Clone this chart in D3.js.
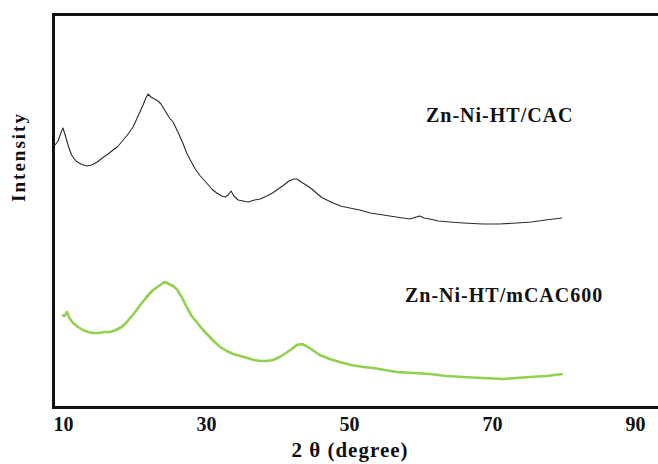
<!DOCTYPE html>
<html>
<head>
<meta charset="utf-8">
<script src="https://cdn.jsdelivr.net/npm/d3@7/dist/d3.min.js"></script>
<style>
  html, body { margin: 0; padding: 0; background: #fff; }
  svg { display: block; }
  text { font-family: "Liberation Serif", "Times New Roman", serif; font-weight: bold; fill: #111; }
</style>
</head>
<body>
<svg id="chart" width="658" height="464"></svg>
<script>
// 2θ positions (degree) and intensities (a.u.) for each sample
const cacTheta = [8.9, 9.3, 9.7, 10.0, 10.3, 10.7, 11.2, 11.8, 12.5, 13.3, 14.0, 14.8, 15.5, 16.3, 17.0, 17.6, 18.3, 19.0, 19.8, 20.5, 21.2, 21.6, 21.9, 22.3, 22.8, 23.3, 23.7, 24.3, 24.9, 25.4, 26.0, 26.7, 27.3, 27.8, 28.5, 29.2, 30.1, 30.8, 31.5, 32.2, 32.7, 33.1, 33.5, 33.9, 34.5, 35.2, 35.9, 36.8, 37.6, 38.5, 39.3, 40.1, 40.9, 41.6, 42.3, 42.7, 43.3, 44.0, 44.8, 45.6, 46.3, 46.9, 47.8, 48.8, 50.1, 51.5, 53.0, 54.8, 56.6, 58.5, 59.4, 59.9, 60.5, 61.3, 62.5, 64.1, 66.0, 68.7, 71.0, 73.5, 75.5, 77.5, 79.8];
const cacIntensity = [262, 266, 274, 279, 272, 262, 252, 246, 243, 241, 242, 245, 249, 253, 257, 260, 266, 272, 280, 291, 302, 309, 313, 310, 308, 306, 303, 296, 289, 285, 276, 265, 254, 247, 238, 231, 224, 218, 214, 211, 210, 212, 216, 211, 207, 206, 205, 207, 208, 211, 214, 218, 222, 226, 228, 228, 225, 222, 218, 213, 209, 207, 204, 201, 199, 197, 194, 192, 190, 188, 190, 191, 189, 188, 186, 185, 184, 183, 183, 184, 185, 187, 189];

const mcacTheta = [9.86, 10.2, 10.56, 10.9, 11.4, 12.1, 12.8, 13.5, 14.2, 15.0, 15.8, 16.6, 17.4, 18.2, 18.8, 19.4, 20.1, 20.8, 21.7, 22.6, 23.4, 24.0, 24.3, 24.8, 25.4, 25.9, 26.6, 27.3, 28.0, 28.8, 29.6, 30.4, 31.2, 32.0, 32.9, 33.8, 34.8, 35.8, 36.7, 37.6, 38.5, 39.4, 40.3, 41.2, 42.0, 42.7, 43.4, 44.0, 44.7, 45.3, 45.9, 47.3, 48.7, 50.3, 52.0, 53.4, 55.0, 56.7, 59.0, 61.3, 63.6, 65.9, 68.7, 71.5, 73.4, 75.3, 77.6, 79.9];
const mcacIntensity = [92, 91, 95, 89, 84, 80, 77, 75, 74, 74, 75, 75, 77, 80, 84, 89, 95, 102, 110, 117, 121, 124, 125, 123, 121, 118, 110, 100, 91, 84, 77, 71, 65, 60, 56, 53, 51, 49, 47, 46, 46, 47, 50, 54, 58, 62, 63, 61, 58, 55, 52, 48, 45, 42, 40, 39, 37, 35, 34, 33, 31, 30, 29, 28, 29, 30, 31, 33];

const xTicks = [10, 30, 50, 70, 90];
const seriesNames = ["Zn-Ni-HT/CAC", "Zn-Ni-HT/mCAC600"];
const seriesColors = ["#2b2b2b", "#92d050"];

const svg = d3.select("#chart");

const x = d3.scaleLinear().domain([10, 90]).range([63, 635]);
const y = d3.scaleLinear().domain([0, 393]).range([407, 14]);

const plotLeft = 53, plotTop = 14, plotBottom = 407;

svg.append("defs").append("clipPath").attr("id", "plot-clip")
  .append("rect")
  .attr("x", plotLeft).attr("y", plotTop)
  .attr("width", 700).attr("height", plotBottom - plotTop);

const line = d3.line()
  .x(d => x(d[0]))
  .y(d => y(d[1]));

const series = [
  { name: seriesNames[0], color: seriesColors[0], width: 1.1, pts: d3.zip(cacTheta, cacIntensity) },
  { name: seriesNames[1], color: seriesColors[1], width: 2.6, pts: d3.zip(mcacTheta, mcacIntensity) }
];

svg.append("g").attr("clip-path", "url(#plot-clip)")
  .selectAll("path")
  .data(series)
  .join("path")
  .attr("d", d => line(d.pts))
  .attr("fill", "none")
  .attr("stroke", d => d.color)
  .attr("stroke-width", d => d.width)
  .attr("stroke-linejoin", "round");

// frame (right side runs past the edge of the canvas)
svg.append("rect")
  .attr("x", plotLeft + 0.5).attr("y", plotTop + 0.5)
  .attr("width", 720).attr("height", plotBottom - plotTop)
  .attr("fill", "none")
  .attr("stroke", "#111")
  .attr("stroke-width", 3);

// bottom axis labels
const xAxis = d3.axisBottom(x).tickValues(xTicks).tickSize(0).tickPadding(10);
const gx = svg.append("g").attr("transform", `translate(0,${plotBottom})`).call(xAxis);
gx.select(".domain").remove();
gx.selectAll("text")
  .style("font-family", "'Liberation Serif', 'Times New Roman', serif")
  .style("font-weight", "bold")
  .style("font-size", "20px")
  .attr("fill", "#111");

svg.append("text")
  .attr("x", 350).attr("y", 457)
  .attr("text-anchor", "middle")
  .style("font-size", "21px")
  .style("letter-spacing", "1px")
  .text("2 θ (degree)");

svg.append("text")
  .attr("transform", "translate(25,157) rotate(-90)")
  .attr("text-anchor", "middle")
  .style("font-size", "19px")
  .style("letter-spacing", "2px")
  .text("Intensity");

// series labels
svg.append("text")
  .attr("x", 426).attr("y", 122)
  .style("font-size", "20px")
  .style("letter-spacing", "1px")
  .text(seriesNames[0]);

svg.append("text")
  .attr("x", 405).attr("y", 302)
  .style("font-size", "20px")
  .style("letter-spacing", "1px")
  .text(seriesNames[1]);
</script>
</body>
</html>
